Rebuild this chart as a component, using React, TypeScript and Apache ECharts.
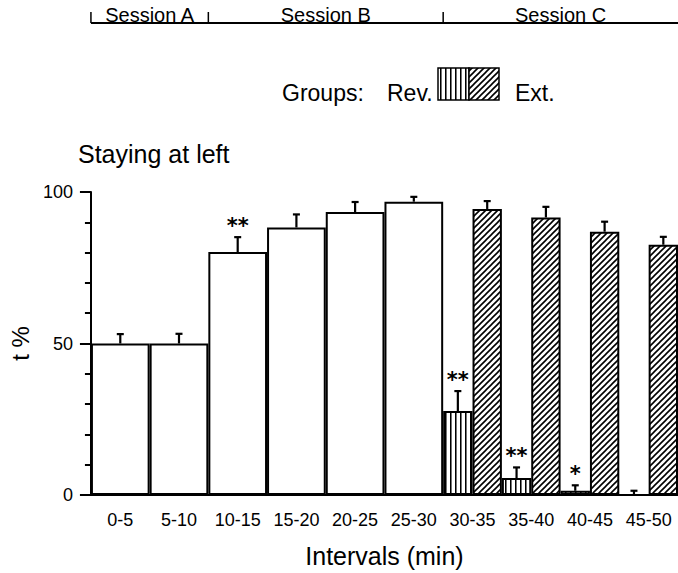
import React, { useEffect, useRef } from 'react';
import * as echarts from 'echarts';

const categories = ['0-5', '5-10', '10-15', '15-20', '20-25', '25-30', '30-35', '35-40', '40-45', '45-50'];

// Sessions A and B: one bar per interval
const singleValues = [50, 50, 80.2, 88.3, 93.4, 96.8];
const singleErrors = [3.1, 3.2, 4.9, 4.3, 3.3, 1.6];
const singleSig = ['', '', '**', '', '', ''];

// Session C: two groups per interval (start at interval index 6)
const pairedStart = 6;
const revValues = [27.7, 5.6, 1.4, 0];
const revErrors = [6.6, 3.5, 1.8, 1.4];
const revSig = ['**', '**', '*', ''];
const extValues = [94.4, 91.6, 86.9, 82.6];
const extErrors = [2.6, 3.5, 3.3, 2.6];
const extSig = ['', '', '', ''];

const sessionNames = ['Session A', 'Session B', 'Session C'];
const sessionStart = [0, 2, 6];
const sessionEnd = [2, 6, 10];

const yMin = 0;
const yMax = 100;
const yInterval = 50;

const FONT = 'Liberation Sans';

function makeRevPattern() {
  const c = document.createElement('canvas');
  c.width = 5;
  c.height = 4;
  const ctx = c.getContext('2d')!;
  ctx.fillStyle = '#fff';
  ctx.fillRect(0, 0, 5, 4);
  ctx.fillStyle = '#000';
  ctx.fillRect(0, 0, 1, 4);
  ctx.fillStyle = 'rgba(0,0,0,0.55)';
  ctx.fillRect(1, 0, 1, 4);
  return { image: c, repeat: 'repeat', imageWidth: 5, imageHeight: 4 } as any;
}

function makeExtPattern() {
  const s = 6;
  const c = document.createElement('canvas');
  c.width = s;
  c.height = s;
  const ctx = c.getContext('2d')!;
  ctx.fillStyle = '#fff';
  ctx.fillRect(0, 0, s, s);
  ctx.strokeStyle = '#000';
  ctx.lineWidth = 1.6;
  ctx.beginPath();
  ctx.moveTo(-1, 1); ctx.lineTo(1, -1);
  ctx.moveTo(-1, s + 1); ctx.lineTo(s + 1, -1);
  ctx.moveTo(s - 1, s + 1); ctx.lineTo(s + 1, s - 1);
  ctx.stroke();
  return { image: c, repeat: 'repeat', imageWidth: s, imageHeight: s } as any;
}

function pad(vals: number[], start: number) {
  const out: any[] = categories.map(() => '-');
  vals.forEach((v, i) => { out[start + i] = v; });
  return out;
}

function errData(vals: number[], errs: number[], start: number) {
  return vals.map((v, i) => [start + i, v, errs[i]]);
}

function errRender(offsetFrac: number, sig: string[]) {
  return (params: any, api: any) => {
    const x = api.value(0);
    const v = api.value(1);
    const e = api.value(2);
    const band = api.size([1, 0])[0];
    const base = api.coord([x, v]);
    const top = api.coord([x, v + e]);
    const cx = base[0] + offsetFrac * band;
    const cap = 3.5;
    const children: any[] = [
      { type: 'line', shape: { x1: cx, y1: base[1], x2: cx, y2: top[1] }, style: { stroke: '#000', lineWidth: 2.2 } },
      { type: 'line', shape: { x1: cx - cap, y1: top[1], x2: cx + cap, y2: top[1] }, style: { stroke: '#000', lineWidth: 2.2 } },
    ];
    const s = sig[params.dataIndex];
    if (s) {
      children.push({
        type: 'text',
        x: cx,
        y: top[1] - 15 + 4,
        style: {
          text: s,
          font: 'bold 21px "DejaVu Sans"',
          fill: '#000',
          align: 'center',
          verticalAlign: 'middle',
        },
      });
    }
    return { type: 'group', children };
  };
}

export default function App() {
  const ref = useRef<HTMLDivElement>(null);
  useEffect(() => {
    const el = ref.current!;
    const chart = echarts.init(el, undefined, { renderer: 'svg' });
    const rev = makeRevPattern();
    const ext = makeExtPattern();
    const axisBlack = { color: '#000', width: 2 };

    chart.setOption({
      animation: false,
      backgroundColor: '#fff',
      grid: { left: 79, top: 192, width: 600, height: 303, containLabel: false },
      xAxis: [
        {
          type: 'category',
          data: categories,
          axisLine: { show: true, lineStyle: axisBlack },
          axisTick: { show: false },
          axisLabel: { interval: 0, color: '#000', fontSize: 18, fontFamily: FONT, margin: 16 },
          name: 'Intervals (min)',
          nameLocation: 'middle',
          nameGap: 48,
          nameTextStyle: { color: '#000', fontSize: 25, fontFamily: FONT },
        },
        {
          type: 'category',
          data: categories,
          show: false,
        },
      ],
      yAxis: {
        type: 'value',
        min: yMin,
        max: yMax,
        interval: yInterval,
        axisLine: { show: true, lineStyle: axisBlack },
        axisTick: { show: true, length: 11, lineStyle: axisBlack },
        minorTick: { show: true, splitNumber: 5, length: 6, lineStyle: axisBlack },
        splitLine: { show: false },
        minorSplitLine: { show: false },
        axisLabel: { color: '#000', fontSize: 18, fontFamily: FONT, margin: 18 },
        name: 't %',
        nameLocation: 'middle',
        nameRotate: 90,
        nameGap: 50,
        nameTextStyle: { color: '#000', fontSize: 24, fontFamily: FONT },
      },
      series: [
        {
          type: 'bar',
          name: 'single',
          xAxisIndex: 0,
          data: pad(singleValues, 0),
          barWidth: '100%',
          barGap: '0%',
          barCategoryGap: '0%',
          itemStyle: { color: '#fff', borderColor: '#000', borderWidth: 2 },
          z: 2,
        },
        {
          type: 'bar',
          name: 'Rev.',
          xAxisIndex: 1,
          data: pad(revValues, pairedStart),
          barGap: '0%',
          barCategoryGap: '0%',
          itemStyle: { color: rev, borderColor: '#000', borderWidth: 2 },
          z: 2,
        },
        {
          type: 'bar',
          name: 'Ext.',
          xAxisIndex: 1,
          data: pad(extValues, pairedStart),
          barGap: '0%',
          barCategoryGap: '0%',
          itemStyle: { color: ext, borderColor: '#000', borderWidth: 2 },
          z: 2,
        },
        {
          type: 'custom',
          xAxisIndex: 0,
          data: errData(singleValues, singleErrors, 0),
          renderItem: errRender(0, singleSig),
          z: 5,
          clip: false,
        },
        {
          type: 'custom',
          xAxisIndex: 1,
          data: errData(revValues, revErrors, pairedStart),
          renderItem: errRender(-0.25, revSig),
          z: 5,
          clip: false,
        },
        {
          type: 'custom',
          xAxisIndex: 1,
          data: errData(extValues, extErrors, pairedStart),
          renderItem: errRender(0.25, extSig),
          z: 5,
          clip: false,
        },
      ],
    });

    const c0 = chart.convertToPixel({ xAxisIndex: 0 }, 0) as number;
    const c1 = chart.convertToPixel({ xAxisIndex: 0 }, 1) as number;
    const band = c1 - c0;
    const edge = (i: number) => c0 + (i - 0.5) * band;
    const lineY = 23;
    const graphics: any[] = [
      {
        type: 'line',
        shape: { x1: edge(sessionStart[0]), y1: lineY, x2: edge(sessionEnd[sessionEnd.length - 1]), y2: lineY },
        style: { stroke: '#000', lineWidth: 2 },
      },
    ];
    sessionNames.forEach((name, i) => {
      graphics.push({
        type: 'line',
        shape: { x1: edge(sessionStart[i]), y1: 12, x2: edge(sessionStart[i]), y2: lineY },
        style: { stroke: '#000', lineWidth: 1.5 },
      });
      graphics.push({
        type: 'text',
        x: (edge(sessionStart[i]) + edge(sessionEnd[i])) / 2,
        y: 14.5,
        style: { text: name, font: `20px "${FONT}"`, fill: '#000', align: 'center', verticalAlign: 'middle' },
      });
    });
    // title
    graphics.push({
      type: 'text', x: 78, y: 153.5,
      style: { text: 'Staying at left', font: `25px "${FONT}"`, fill: '#000', align: 'left', verticalAlign: 'middle' },
    });
    // legend
    graphics.push({
      type: 'text', x: 282, y: 92.5,
      style: { text: 'Groups:', font: `23px "${FONT}"`, fill: '#000', align: 'left', verticalAlign: 'middle' },
    });
    graphics.push({
      type: 'text', x: 387, y: 92.5,
      style: { text: 'Rev.', font: `23px "${FONT}"`, fill: '#000', align: 'left', verticalAlign: 'middle' },
    });
    graphics.push({
      type: 'text', x: 515, y: 92.5,
      style: { text: 'Ext.', font: `23px "${FONT}"`, fill: '#000', align: 'left', verticalAlign: 'middle' },
    });
    graphics.push({
      type: 'rect', shape: { x: 438, y: 68, width: 31, height: 32 },
      style: { fill: rev, stroke: '#000', lineWidth: 1.5 },
    });
    graphics.push({
      type: 'rect', shape: { x: 469, y: 68, width: 30, height: 32 },
      style: { fill: ext, stroke: '#000', lineWidth: 1.5 },
    });
    chart.setOption({ graphic: graphics });

    return () => chart.dispose();
  }, []);
  return (
    <div
      ref={ref}
      style={{ position: 'fixed', left: 0, top: 0, width: 678, height: 573, background: '#fff' }}
    />
  );
}
